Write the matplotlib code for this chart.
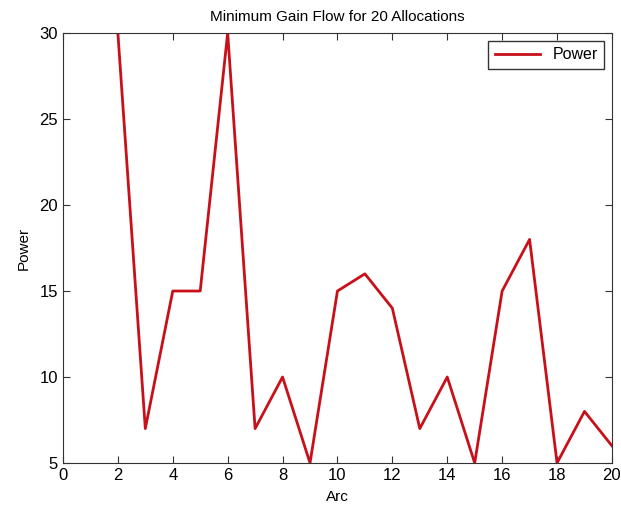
import matplotlib.pyplot as plt

plt.rcParams['font.family'] = ['Liberation Sans', 'DejaVu Sans']

arcs = [2, 3, 4, 5, 6, 7, 8, 9, 10, 11, 12, 13, 14, 15, 16, 17, 18, 19, 20]
power = [30, 7, 15, 15, 30, 7, 10, 5, 15, 16, 14, 7, 10, 5, 15, 18, 5, 8, 6]
x_ticks = list(range(0, 21, 2))
y_ticks = list(range(5, 31, 5))

fig = plt.figure(figsize=(6.21, 5.07), dpi=100)
ax = fig.add_axes([0.1014, 0.0868, 0.884, 0.848])

ax.plot(arcs, power, color='#c8101a', lw=2, label='Power')

ax.set_xlim(0, 20)
ax.set_ylim(5, 30)
ax.set_xticks(x_ticks)
ax.set_yticks(y_ticks)
ax.tick_params(direction='in', top=True, right=True, labelsize=12, length=5, color='#333333')
for s in ax.spines.values():
    s.set_color('#333333')

ax.set_xlabel('Arc', fontsize=11, labelpad=5)
ax.set_ylabel('Power', fontsize=11, labelpad=6)
ax.set_title('Minimum Gain Flow for 20 Allocations', fontsize=11, pad=9)

leg = ax.legend(loc='upper right', fontsize=11.5, fancybox=False, handlelength=2.8,
                borderpad=0.4, framealpha=1)
leg.get_frame().set_edgecolor('#333333')

fig.savefig('out.png', dpi=100)
